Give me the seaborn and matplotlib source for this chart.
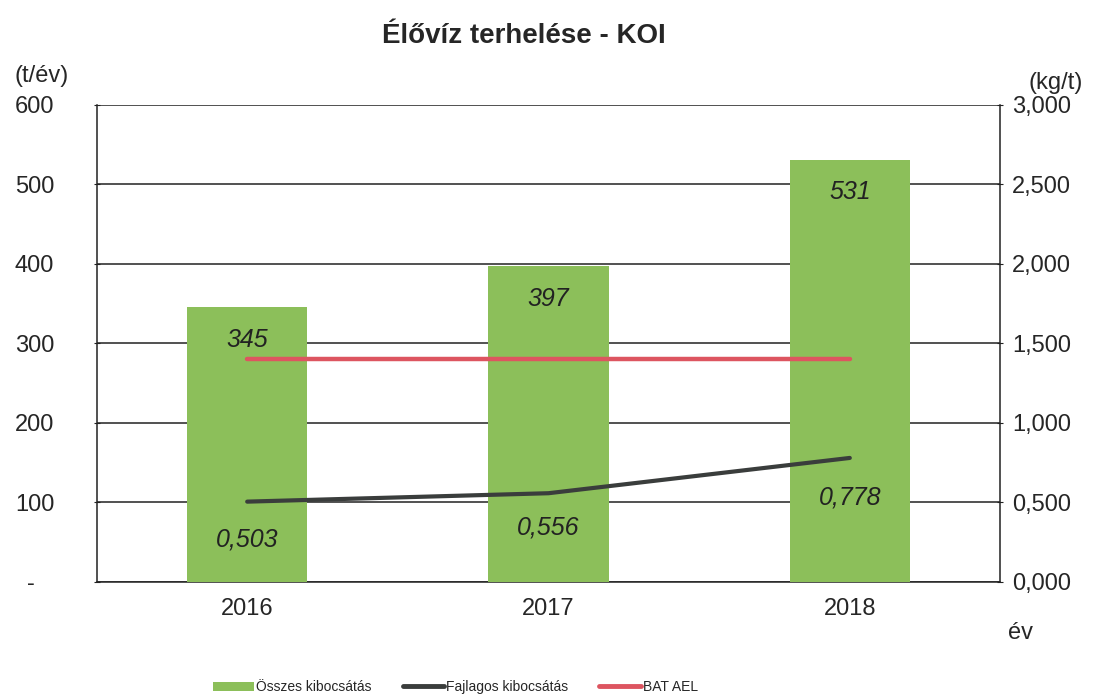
import pandas as pd
import matplotlib
matplotlib.use('Agg')
import matplotlib.pyplot as plt
import seaborn as sns
from matplotlib.lines import Line2D
from matplotlib.patches import Patch

# Data
years = ['2016', '2017', '2018']
osszes = [345, 397, 531]            # t/év, left axis
fajlagos = [0.503, 0.556, 0.778]    # kg/t, right axis
bat_ael = [1.40, 1.40, 1.40]        # kg/t, right axis
left_ticks = [0, 100, 200, 300, 400, 500, 600]
left_labels = ['-   ', '100', '200', '300', '400', '500', '600']
right_ticks = [0.0, 0.5, 1.0, 1.5, 2.0, 2.5, 3.0]

df = pd.DataFrame({'ev': years, 'osszes': osszes, 'fajlagos': fajlagos, 'bat': bat_ael})

sns.set_style('white')
plt.rcParams['font.family'] = ['Liberation Sans', 'DejaVu Sans']

bar_color = '#8cbf5a'
black_line = '#3a3d3c'
red_line = '#dd5560'
fs = 17

fig = plt.figure(figsize=(10.97, 6.99), dpi=100)
ax = fig.add_axes([0.088, 0.168, 0.824, 0.682])

sns.barplot(data=df, x='ev', y='osszes', color=bar_color, width=0.4,
            saturation=1, edgecolor='none', linewidth=0, ax=ax, zorder=3)
ax.set_ylim(0, 600)
ax.set_xlim(-0.5, 2.5)
ax.set_yticks(left_ticks)
ax.set_yticklabels(left_labels, fontsize=fs)
ax.yaxis.grid(True, color='#222222', linewidth=1.1)
ax.set_axisbelow(True)
ax.set_xlabel('')
ax.set_ylabel('')
ax.set_xticks([0, 1, 2])
ax.set_xticklabels(years, fontsize=fs)
ax.tick_params(axis='x', length=0, pad=12)
ax.set_xticks([-0.5, 0.5, 1.5, 2.5], minor=True)
ax.tick_params(axis='x', which='minor', length=5, direction='inout', color='#222222')
ax.tick_params(axis='y', length=5, direction='inout', color='#222222', pad=28)
for s in ['left', 'bottom']:
    ax.spines[s].set_color('#222222')
    ax.spines[s].set_linewidth(1.1)
ax.spines['top'].set_visible(False)
ax.spines['right'].set_visible(False)

for i, v in enumerate(osszes):
    ax.text(i, v - 26, str(v), ha='center', va='top', fontsize=18,
            style='italic', color='#222222', zorder=5)

ax2 = ax.twinx()
ax2.set_ylim(0, 3.0)
sns.lineplot(data=df, x='ev', y='bat', color=red_line, linewidth=3.2, ax=ax2, zorder=4)
sns.lineplot(data=df, x='ev', y='fajlagos', color=black_line, linewidth=3, ax=ax2, zorder=4)
ax2.set_xlim(-0.5, 2.5)
ax2.set_yticks(right_ticks)
ax2.set_yticklabels([f'{t:.3f}'.replace('.', ',') for t in right_ticks], fontsize=fs)
ax2.tick_params(axis='y', length=5, direction='inout', color='#222222', pad=6)
ax2.set_ylabel('')
ax2.set_xlabel('')
for s in ['top', 'left', 'bottom']:
    ax2.spines[s].set_visible(False)
ax2.spines['right'].set_color('#222222')
ax2.spines['right'].set_linewidth(1.1)

label_y = [0.264, 0.34, 0.53]
for i, v in enumerate(fajlagos):
    ax2.text(i, label_y[i], f'{v:.3f}'.replace('.', ','), ha='center', va='center',
             fontsize=18, style='italic', color='#222222', zorder=5)

fig.text(0.478, 0.948, 'Élővíz terhelése - KOI', ha='center', va='center',
         fontsize=20, fontweight='bold')
fig.text(0.038, 0.891, '(t/év)', ha='center', va='center', fontsize=fs)
fig.text(0.962, 0.881, '(kg/t)', ha='center', va='center', fontsize=fs)
fig.text(0.93, 0.094, 'év', ha='center', va='center', fontsize=fs)

handles = [Patch(facecolor=bar_color, edgecolor='none'),
           Line2D([0], [0], color=black_line, linewidth=3.5),
           Line2D([0], [0], color=red_line, linewidth=3.5)]
fig.legend(handles, ['Összes kibocsátás', 'Fajlagos kibocsátás', 'BAT AEL'],
           loc='center', bbox_to_anchor=(0.415, 0.017), ncol=3, frameon=False,
           fontsize=10, handlelength=3.0, handletextpad=0.15, columnspacing=2.2,
           handleheight=0.6)

fig.savefig('out.png', dpi=100)
